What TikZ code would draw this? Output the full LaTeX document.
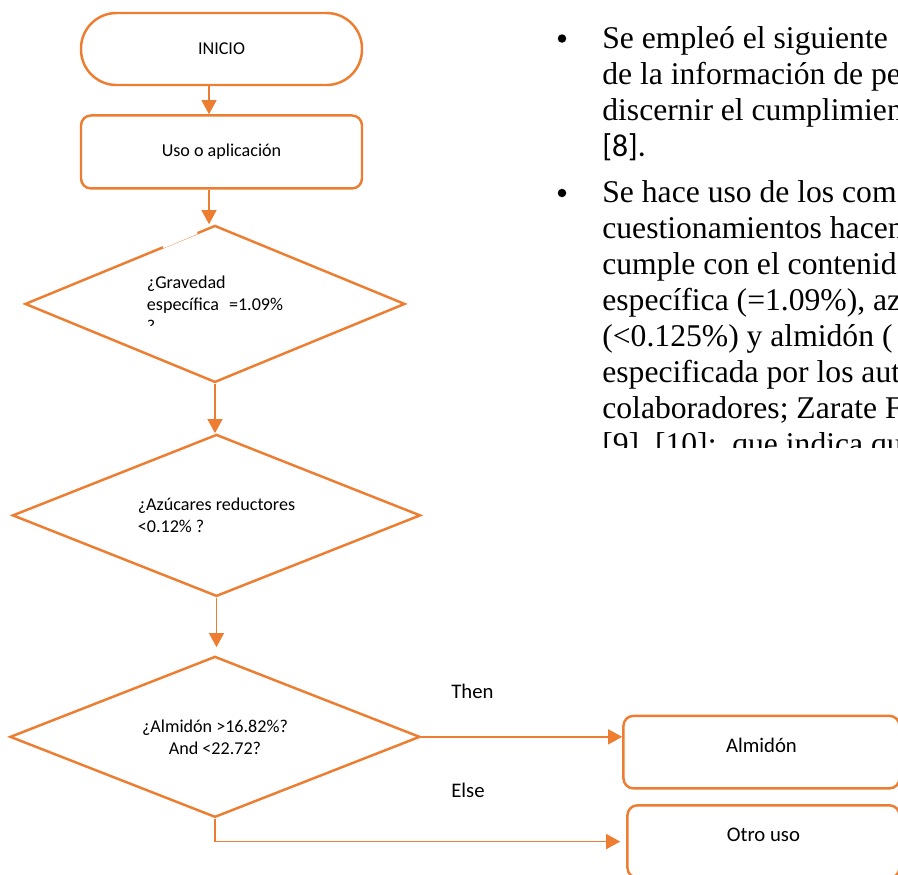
\documentclass[tikz,border=0pt]{standalone}
\usepackage{fontspec}
\setmainfont{Liberation Serif}
\newfontfamily\calibri{Carlito}
\usetikzlibrary{arrows.meta,shapes.geometric,positioning,calc}

\definecolor{accorange}{HTML}{ED7D31}

\begin{document}
\begin{tikzpicture}[>={Triangle[length=8pt,width=8.5pt]},
	flow/.style={->,draw=accorange,line width=0.85pt},
	terminal/.style={rectangle,rounded corners=0.71cm,draw=accorange,line width=1.4pt,
		minimum width=5.62cm,minimum height=1.44cm,font=\calibri\fontsize{10.3}{12.5}\selectfont},
	process/.style={rectangle,rounded corners=0.2cm,draw=accorange,line width=1.4pt,
		minimum width=5.62cm,minimum height=1.46cm,font=\calibri\fontsize{10.3}{12.5}\selectfont},
	decision/.style={diamond,draw=accorange,line width=1.4pt,inner sep=0pt,aspect=2.5,
		font=\calibri\fontsize{10.3}{12.5}\selectfont},
	result/.style={process,minimum width=5.52cm,minimum height=1.45cm,text depth=0.27cm,
		font=\calibri\fontsize{11.8}{14}\selectfont},
	branch/.style={anchor=base west,inner sep=0pt,font=\calibri\fontsize{11.8}{14}\selectfont},
	bodyline/.style={anchor=base west,inner sep=0pt,font=\fontsize{18}{20.5}\selectfont},
	bullet/.style={circle,fill=black,inner sep=0pt,minimum size=0.17cm}]
	\useasboundingbox (0,0) rectangle (17.96,-17.48);

	% flowchart
	\node[terminal](inicio) at (4.43,-0.98) {INICIO};
	\node[process](uso)[below=0.56cm of inicio] {Uso o aplicación};
	\node[decision,minimum width=7.6cm,minimum height=3.14cm,align=left](grav)
		[below=0.69cm of uso,xshift=-0.13cm] {¿Gravedad\\específica\hspace{0.55em}=1.09\%\\?};
	\node[decision,minimum width=8.16cm,minimum height=3.24cm,align=left](azuc)
		[below=0.99cm of grav,xshift=0.03cm] {¿Azúcares reductores\\<0.12\% ?};
	\node[decision,minimum width=8.2cm,minimum height=3.22cm,align=center](alm)
		[below=1.15cm of azuc,xshift=-0.03cm] {¿Almidón >16.82\%?\\And <22.72?};
	\node[result](almidon)[right=4.02cm of alm,yshift=-0.305cm] {Almidón};
	\node[result,minimum width=5.44cm](otro)[below=0.29cm of almidon,xshift=0.04cm] {Otro uso};

	% text box edges
	\draw[white,line width=2.6pt] ($(grav.west)!0.726!(grav.north)$) -- ($(grav.west)!0.905!(grav.north)$);
	\fill[white] ($(grav.center)+(-1.5,-0.45)$) rectangle ++(0.32,-0.22);

	\draw[flow] ([xshift=-0.25cm]inicio.south) -- ([xshift=-0.25cm]uso.north);
	\draw[flow] ([xshift=-0.25cm]uso.south) -- ([xshift=-0.25cm]uso.south |- grav.north);
	\draw[flow] (grav.south) -- (grav.south |- azuc.north);
	\draw[flow,shorten >=0.16cm] (azuc.south) -- (azuc.south |- alm.north);
	\draw[flow] (alm.east) -- (alm.east -| almidon.west);
	\draw[flow,shorten >=0.12cm] (alm.south) |- (otro.west);

	\node[branch](then) at (9.02,-13.96) {Then};
	\node[branch](else) at (9.02,-15.94) {Else};

	% page text
	\begin{scope}
		\clip (11,0) rectangle (17.96,-8.94);
		\node[bullet](dot1) at (11.24,-0.77) {};
		\node[bullet](dot2) at (11.24,-3.86) {};
		\foreach \txt [count=\i] in {{Se empleó el siguiente},{de la información de pe},
			{discernir el cumplimien},{\calibri [8].}}
			\node[bodyline](pa\i) at (12.04,{-0.96-0.722*(\i-1)}) {\txt};
		\foreach \txt [count=\i] in {{Se hace uso de los com},
			{cuestionamientos hacen},{cumple con el contenid},{específica (=1.09\%), az},
			{(<0.125\%) y almidón (},{especificada por los aut},{colaboradores; Zarate F},
			{[9], [10];~ que indica qu}}
			\node[bodyline](pb\i) at (12.04,{-4.04-0.722*(\i-1)}) {\txt};
	\end{scope}
\end{tikzpicture}
\end{document}
